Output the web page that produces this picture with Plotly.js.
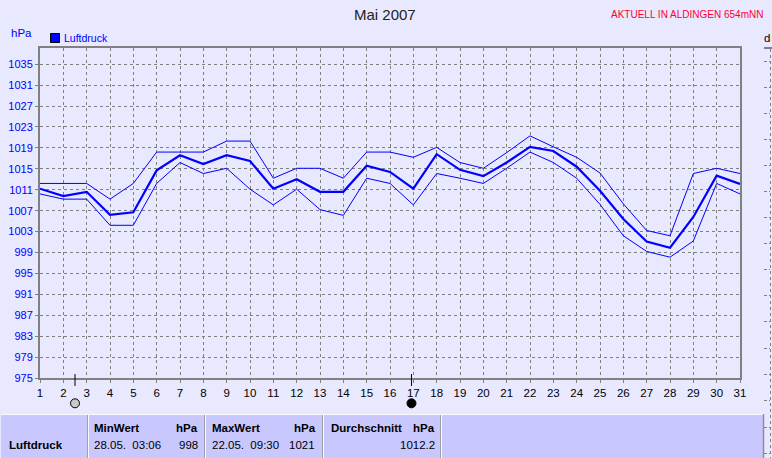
<!DOCTYPE html>
<html><head><meta charset="utf-8">
<script src="https://cdn.plot.ly/plotly-3.0.1.min.js"></script>
<style>html,body{margin:0;padding:0;background:#E8E8FF;overflow:hidden}#c{width:772px;height:458px}</style>
</head><body><div id="c"></div>
<script>
const days = [1,2,3,4,5,6,7,8,9,10,11,12,13,14,15,16,17,18,19,20,21,22,23,24,25,26,27,28,29,30,31];
const meanP = [1011.2,1009.8,1010.6,1006.2,1006.7,1014.7,1017.6,1015.9,1017.6,1016.5,1011.2,1013,1010.6,1010.6,1015.6,1014.4,1011.2,1017.8,1014.8,1013.6,1016.2,1019.2,1018.4,1015.4,1010.8,1005.4,1001.1,999.9,1005.8,1013.7,1012.1];
const maxP = [1012.2,1012.2,1012.2,1009.2,1012.2,1018.2,1018.2,1018.2,1020.3,1020.3,1013.2,1015.1,1015.1,1013.2,1018.2,1018.2,1017.2,1019.1,1016.2,1015.1,1018.1,1021.3,1019.2,1017.2,1014.2,1008.3,1003.2,1002.2,1014.1,1015.1,1014.1];
const minP = [1010.2,1009.2,1009.2,1004.2,1004.2,1012.2,1016.2,1014.1,1015.1,1011.1,1008.1,1011.1,1007.2,1006.1,1013.2,1012.2,1008.1,1014.1,1013.2,1012.2,1015.1,1018.2,1016.2,1013.2,1008.2,1002.2,999.2,998.1,1001.2,1012.2,1010.2];
const yTicks = [975,979,983,987,991,995,999,1003,1007,1011,1015,1019,1023,1027,1031,1035];
const moonDays = [2.5,16.92];
const panelEdges = [88,205,323,441];
const stubTicks = [61,87,113,139,165,191,217,243,269,295,321,348,374,400,427,453];
const BLUE='#0000FF', GRID='#808080', CELL='#C8C8FF', BG='#E8E8FF';
const F='"Liberation Sans", Arial, sans-serif';
const fx=x=>(x-40)/700, fy=y=>(378-y)/330;
const px=(x,y,text,size,color,anchor)=>({xref:'paper',yref:'paper',x:fx(x+(anchor==='right'?2:anchor==='center'?0:-2)),y:fy(y),text,showarrow:false,xanchor:anchor||'left',yanchor:'middle',font:{family:F,size:size,color:color||'#000'}});
const rect=(x0,y0,x1,y1,fill,line)=>({type:'rect',layer:'above',xref:'paper',yref:'paper',x0:fx(x0),x1:fx(x1),y0:fy(y0),y1:fy(y1),fillcolor:fill,line:line||{width:0}});
const seg=(x0,y0,x1,y1,color,width,dash)=>({type:'line',layer:'above',xref:'paper',yref:'paper',x0:fx(x0),x1:fx(x1),y0:fy(y0),y1:fy(y1),line:{color,width,dash:dash||'solid'}});
const shapes = [rect(1,414,764,458,CELL), seg(1,414.5,764,414.5,'#F8F8FF',1), seg(763.5,414,763.5,458,'#909090',1.5)];
panelEdges.forEach(e=>{shapes.push(seg(e-0.5,415,e-0.5,458,'#A0A0A0',1)); shapes.push(seg(e+0.5,415,e+0.5,458,'#F8F8FF',1));});
shapes.push(seg(764,48,772,48,GRID,2), seg(770.5,49,770.5,458,GRID,1,'3px,3px'));
stubTicks.forEach(t=>shapes.push(seg(764,t+0.5,770,t+0.5,GRID,1,'3px,2px')));
moonDays.forEach((d,i)=>{
  shapes.push({type:'line',layer:'above',xref:'x',yref:'paper',x0:d,x1:d,y0:fy(374),y1:fy(386),line:{color:'#000',width:1}});
  shapes.push({type:'circle',layer:'above',xref:'x',yref:'paper',xsizemode:'pixel',ysizemode:'pixel',xanchor:d,yanchor:fy(403.3),x0:-4.5,x1:4.5,y0:-4.5,y1:4.5,fillcolor:i?'#000':'#C8C8C8',line:{color:'#000',width:1}});
});
shapes.push(rect(50.5,33.5,59.5,42.5,BLUE,{color:'#000',width:1}));
const annotations = [
 px(385,15,'Mai 2007',15,'#222','center'),
 px(687,14,'AKTUELL IN ALDINGEN 654mNN',10,'#FF0033','center'),
 px(11,33,'hPa',11.5,BLUE),
 px(64,38,'Luftdruck',10.5,BLUE),
 px(764,38,'d',11.5,'#000'),
 px(9,445,'<b>Luftdruck</b>',11.5),
 px(94,428,'<b>MinWert</b>',11.5), px(198,428,'<b>hPa</b>',11.5,'#000','right'),
 px(94,445,'28.05.  03:06',11.5), px(198,445,'998',11.5,'#000','right'),
 px(212,428,'<b>MaxWert</b>',11.5), px(316,428,'<b>hPa</b>',11.5,'#000','right'),
 px(212,445,'22.05.  09:30',11.5), px(315,445,'1021',11.5,'#000','right'),
 px(331,428,'<b>Durchschnitt</b>',11.5), px(435,428,'<b>hPa</b>',11.5,'#000','right'),
 px(435,445,'1012.2',11.5,'#000','right')
];
const traces = [
 {x:days,y:maxP,mode:'lines',line:{color:BLUE,width:1},showlegend:false,hoverinfo:'skip'},
 {x:days,y:minP,mode:'lines',line:{color:BLUE,width:1},showlegend:false,hoverinfo:'skip'},
 {x:days,y:meanP,mode:'lines',line:{color:BLUE,width:2.2},showlegend:false,hoverinfo:'skip'}
];
const layout = {
 width:772,height:458,paper_bgcolor:BG,plot_bgcolor:BG,showlegend:false,
 margin:{l:40,r:32,t:48,b:80,pad:0},
 font:{family:F,size:11},
 xaxis:{range:[1,31],tickmode:'array',tickvals:days,ticktext:days.map(String),showgrid:true,gridcolor:GRID,griddash:'3px,3px',gridwidth:1,
   showline:true,linecolor:GRID,linewidth:2,mirror:true,ticks:'outside',ticklen:3,tickcolor:GRID,tickfont:{family:F,size:11.5,color:'#000'},zeroline:false,fixedrange:true},
 yaxis:{range:[975,1038.1],tickmode:'array',tickvals:yTicks,ticktext:yTicks.map(String),showgrid:true,gridcolor:GRID,griddash:'3px,3px',gridwidth:1,
   showline:true,linecolor:GRID,linewidth:2,mirror:true,ticks:'outside',ticklen:3,tickcolor:GRID,tickfont:{family:F,size:11,color:BLUE},zeroline:false,fixedrange:true},
 shapes, annotations
};
Plotly.newPlot('c',traces,layout,{displayModeBar:false,staticPlot:true});
</script></body></html>
